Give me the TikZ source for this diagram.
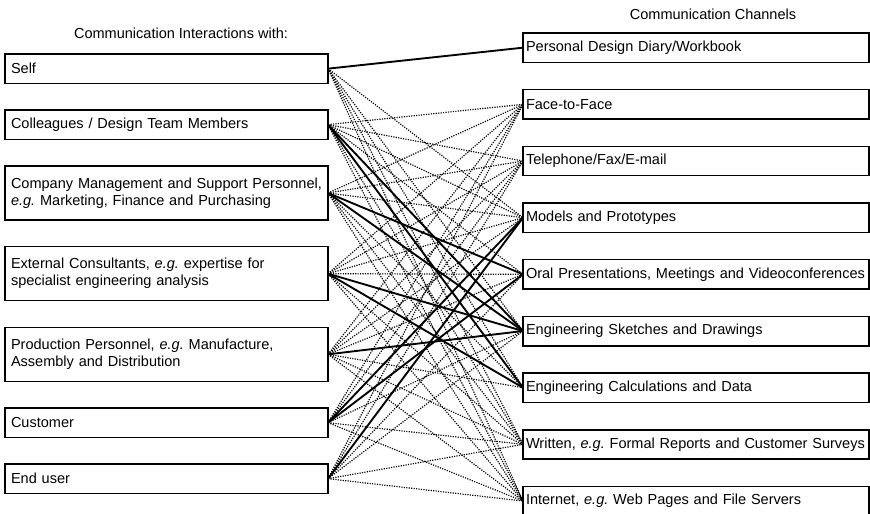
\documentclass[tikz,border=0pt]{standalone}
\usepackage{fontspec}
\setmainfont{Liberation Sans}
\usetikzlibrary{positioning}

\begin{document}
\begin{tikzpicture}[x=0.03cm, y=-0.03cm, node distance=0.8cm]
    \hyphenpenalty=10000 \exhyphenpenalty=10000
    \tikzstyle{interaction} = [rectangle, draw=black, line width=1.4pt,
        outer sep=0pt, text width=9.33cm, inner xsep=0.18cm, inner ysep=0pt,
        minimum height=0.88cm, align=left, font=\fontsize{12.4}{14.5}\selectfont]
    \tikzstyle{channel} = [rectangle, draw=black, line width=1.4pt,
        outer sep=0pt, text width=10.2cm, inner xsep=0.09cm, inner ysep=0pt,
        minimum height=0.88cm, align=left, font=\fontsize{12.4}{14.5}\selectfont]
    \tikzstyle{heading} = [font=\fontsize{12.4}{14.5}\selectfont]
    \tikzstyle{link} = [line width=1pt, dash pattern=on 1pt off 1.1pt]
    \tikzstyle{mainlink} = [line width=1.6pt]

    \useasboundingbox (0,0) rectangle (870,514);

    \node (ttlleft) [heading] at (181,33) {Communication Interactions with:};
    \node (ttlright) [heading] at (713,14) {Communication Channels};

    % who the designer talks with
    \node (self) [interaction, anchor=north west] at (5,54) {Self};
    \node (team) [interaction, below=of self] {Colleagues / Design Team Members};
    \node (mgmt) [interaction, below=of team, minimum height=1.62cm]
        {Company Management and Support Personnel, \\
        \textit{e.g.}\ Marketing, Finance and Purchasing};
    \node (consult) [interaction, below=of mgmt, minimum height=1.62cm]
        {External Consultants, \textit{e.g.}\ expertise for \\
        specialist engineering analysis};
    \node (prod) [interaction, below=of consult, minimum height=1.62cm]
        {Production Personnel, \textit{e.g.}\ Manufacture, \\
        Assembly and Distribution};
    \node (cust) [interaction, below=of prod] {Customer};
    \node (user) [interaction, below=of cust] {End user};

    % the channels used
    \node (diary) [channel, anchor=north west] at (523,33)
        {Personal Design Diary/Workbook};
    \node (face) [channel, below=0.82cm of diary] {Face-to-Face};
    \node (phone) [channel, below=0.82cm of face] {Telephone/Fax/E-mail};
    \node (models) [channel, below=0.82cm of phone] {Models and Prototypes};
    \node (oral) [channel, below=0.82cm of models]
        {Oral Presentations, Meetings and Videoconferences};
    \node (sketch) [channel, below=0.82cm of oral]
        {Engineering Sketches and Drawings};
    \node (calc) [channel, below=0.82cm of sketch]
        {Engineering Calculations and Data};
    \node (written) [channel, below=0.82cm of calc]
        {Written, \textit{e.g.}\ Formal Reports and Customer Surveys};
    \node (web) [channel, below=0.82cm of written]
        {Internet, \textit{e.g.}\ Web Pages and File Servers};

    % occasional links
    \draw [link] (self.east) -- (models.west);
    \draw [link] (self.east) -- (sketch.west);
    \draw [link] (self.east) -- (calc.west);
    \draw [link] (self.east) -- (written.west);
    \draw [link] (self.east) -- (web.west);

    \draw [link] (team.east) -- (face.west);
    \draw [link] (team.east) -- (phone.west);
    \draw [link] (team.east) -- (models.west);
    \draw [link] (team.east) -- (oral.west);
    \draw [link] (team.east) -- (written.west);
    \draw [link] (team.east) -- (web.west);

    \draw [link] (mgmt.east) -- (face.west);
    \draw [link] (mgmt.east) -- (phone.west);
    \draw [link] (mgmt.east) -- (models.west);
    \draw [link] (mgmt.east) -- (calc.west);
    \draw [link] (mgmt.east) -- (written.west);
    \draw [link] (mgmt.east) -- (web.west);

    \draw [link] (consult.east) -- (face.west);
    \draw [link] (consult.east) -- (phone.west);
    \draw [link] (consult.east) -- (models.west);
    \draw [link] (consult.east) -- (oral.west);
    \draw [link] (consult.east) -- (written.west);
    \draw [link] (consult.east) -- (web.west);

    \draw [link] (prod.east) -- (face.west);
    \draw [link] (prod.east) -- (phone.west);
    \draw [link] (prod.east) -- (models.west);
    \draw [link] (prod.east) -- (oral.west);
    \draw [link] (prod.east) -- (calc.west);
    \draw [link] (prod.east) -- (written.west);
    \draw [link] (prod.east) -- (web.west);

    \draw [link] (cust.east) -- (face.west);
    \draw [link] (cust.east) -- (phone.west);
    \draw [link] (cust.east) -- (sketch.west);
    \draw [link] (cust.east) -- (written.west);
    \draw [link] (cust.east) -- (web.west);

    \draw [link] (user.east) -- (face.west);
    \draw [link] (user.east) -- (phone.west);
    \draw [link] (user.east) -- (oral.west);
    \draw [link] (user.east) -- (sketch.west);
    \draw [link] (user.east) -- (written.west);
    \draw [link] (user.east) -- (web.west);

    % main links
    \draw [mainlink] (self.east) -- (diary.west);
    \draw [mainlink] (team.east) -- (sketch.west);
    \draw [mainlink] (team.east) -- (calc.west);
    \draw [mainlink] (mgmt.east) -- (oral.west);
    \draw [mainlink] (mgmt.east) -- (sketch.west);
    \draw [mainlink] (consult.east) -- (sketch.west);
    \draw [mainlink] (consult.east) -- (calc.west);
    \draw [mainlink] (prod.east) -- (sketch.west);
    \draw [mainlink] (cust.east) -- (models.west);
    \draw [mainlink] (cust.east) -- (oral.west);
    \draw [mainlink] (user.east) -- (models.west);
\end{tikzpicture}
\end{document}
